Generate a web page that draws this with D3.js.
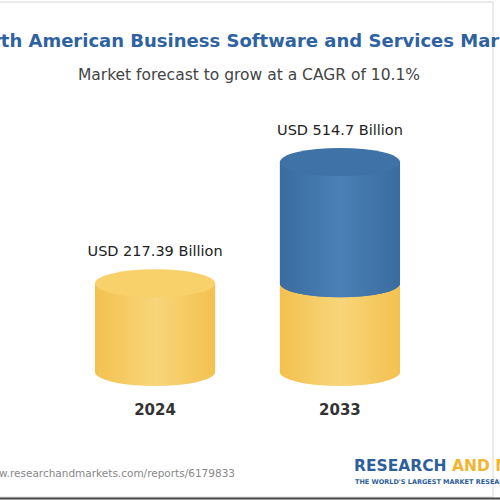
<!DOCTYPE html>
<html><head><meta charset="utf-8">
<script src="https://cdn.jsdelivr.net/npm/d3@7"></script>
<style>body{margin:0;background:#fff}svg{display:block}</style>
</head><body>
<script>
// chart data
var years = ["2024", "2033"];
var values = [217.39, 514.7];
var labels = ["USD 217.39 Billion", "USD 514.7 Billion"];

var font = "'DejaVu Sans', sans-serif";
var svg = d3.select("body").append("svg").attr("width", 500).attr("height", 500);
var defs = svg.append("defs");

function grad(id, c1, c2) {
  var g = defs.append("linearGradient").attr("id", id);
  g.append("stop").attr("offset", "0%").attr("stop-color", c1);
  g.append("stop").attr("offset", "50%").attr("stop-color", c2);
  g.append("stop").attr("offset", "100%").attr("stop-color", c1);
}
grad("yel", "#f3c14f", "#f8d57a");
grad("blu", "#3a6c9f", "#4a80b6");

// frame
svg.append("rect").attr("x", -2).attr("y", 2).attr("width", 495).attr("height", 495)
  .attr("fill", "none").attr("stroke", "#d8d8d8");
svg.append("line").attr("x1", 0).attr("x2", 500).attr("y1", 498.5).attr("y2", 498.5)
  .attr("stroke", "#444").attr("stroke-width", 2);

svg.append("text").attr("x", 248).attr("y", 47).attr("text-anchor", "middle")
  .attr("font-family", font).attr("font-weight", "bold").attr("font-size", 18)
  .attr("fill", "#2f62a0").text("North American Business Software and Services Market");
svg.append("text").attr("x", 249).attr("y", 80).attr("text-anchor", "middle")
  .attr("font-family", font).attr("font-size", 15.5)
  .attr("fill", "#444").text("Market forecast to grow at a CAGR of 10.1%");

var x = d3.scaleBand().domain(years).range([62.6, 432.4]).paddingInner(0.35).paddingOuter(0.175);
var y = d3.scaleLinear().domain([0, values[1]]).range([372, 162]);
var ry = 14;

function cyl(x0, w, yTop, yBot, fill, top) {
  var g = svg.append("g");
  g.append("path").attr("d",
    "M" + x0 + "," + yTop + " L" + x0 + "," + yBot +
    " A" + (w / 2) + "," + ry + " 0 0 0 " + (x0 + w) + "," + yBot +
    " L" + (x0 + w) + "," + yTop + " Z").attr("fill", fill);
  if (top) g.append("ellipse").attr("cx", x0 + w / 2).attr("cy", yTop)
    .attr("rx", w / 2).attr("ry", ry).attr("fill", top);
}

years.forEach(function (yr, i) {
  var x0 = x(yr), w = x.bandwidth();
  if (i === 0) {
    cyl(x0, w, y(values[0]), y(0), "url(#yel)", "#f8d16a");
  } else {
    cyl(x0, w, y(values[0]), y(0), "url(#yel)", null);
    cyl(x0, w, y(values[1]), y(values[0]), "url(#blu)", "#3f72a6");
    svg.append("path").attr("d", "M" + x0 + "," + y(values[0]) + " A" + (w / 2) + "," + ry +
      " 0 0 0 " + (x0 + w) + "," + y(values[0]) + " Z").attr("fill", "url(#blu)");
  }
  svg.append("text").attr("x", x0 + w / 2).attr("y", y(values[i]) - 27).attr("text-anchor", "middle")
    .attr("font-family", font).attr("font-size", 14.5).attr("fill", "#222").text(labels[i]);
  svg.append("text").attr("x", x0 + w / 2).attr("y", 415).attr("text-anchor", "middle")
    .attr("font-family", font).attr("font-weight", "bold").attr("font-size", 15).attr("fill", "#333").text(yr);
});

svg.append("text").attr("x", 235).attr("y", 477).attr("text-anchor", "end")
  .attr("font-family", font).attr("font-size", 10.5).attr("fill", "#888")
  .text("www.researchandmarkets.com/reports/6179833");
svg.append("text").attr("x", 354).attr("y", 471)
  .attr("font-family", font).attr("font-weight", "bold").attr("font-size", 15.5)
  .attr("fill", "#2f5f9a").text("RESEARCH ").append("tspan").attr("fill", "#f2b531").text("AND MARKETS");
svg.append("text").attr("x", 355).attr("y", 484)
  .attr("font-family", font).attr("font-weight", "bold").attr("font-size", 6.5)
  .attr("fill", "#2f5f9a").text("THE WORLD'S LARGEST MARKET RESEARCH STORE");
</script>
</body></html>
